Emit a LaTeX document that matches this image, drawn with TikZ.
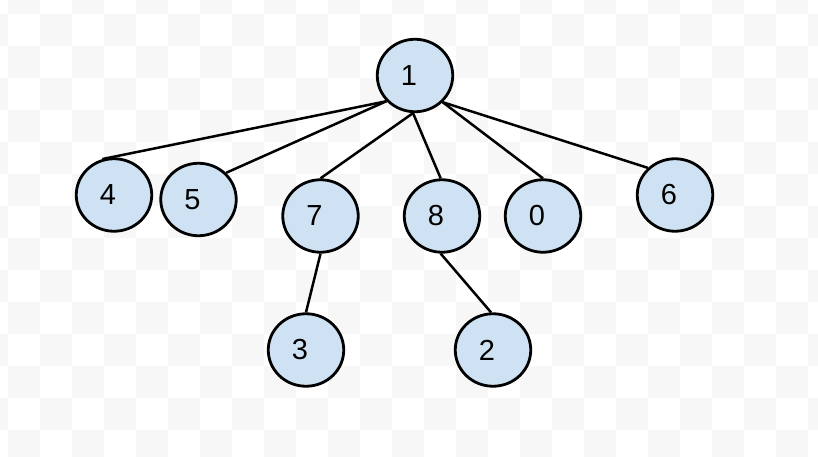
\documentclass[tikz,border=0pt]{standalone}
\usepackage{fontspec}
\setmainfont{Liberation Sans}
\usetikzlibrary{shapes.geometric}
\definecolor{nodefill}{HTML}{CFE2F3}
\definecolor{checker}{HTML}{F7F7F7}
\pgfdeclarelayer{checkers}
\pgfdeclarelayer{edges}
\pgfsetlayers{checkers,edges,main}
\tikzset{
  vtx/.style={ellipse, draw=black, line width=2.8pt, fill=nodefill,
    minimum width=75.5pt, minimum height=72.5pt, inner sep=0pt},
  lbl/.style={font=\fontsize{29}{29}\selectfont, xshift=-6pt, inner sep=0pt},
  edge/.style={line width=2.5pt, black}
}
\begin{document}
\begin{tikzpicture}[x=1pt,y=1pt]
\useasboundingbox (0,0) rectangle (818,456);
\begin{pgfonlayer}{checkers}
\clip (0,0) rectangle (818,456);
\fill[white] (0,0) rectangle (818,456);
\foreach \k in {-1,...,25} {
  \foreach \r in {0,...,14} {
    \pgfmathtruncatemacro\p{mod(\k+\r+20,2)}
    \ifnum\p=0
      \fill[checker] (8+32*\k,474-32*\r) rectangle (40+32*\k,442-32*\r);
    \fi
  }
}
\end{pgfonlayer}
% nodes (pixel centres, y flipped)
\node[vtx, label={[lbl]center:1}] (n1) at (415,380.5) {};
\node[vtx, label={[lbl]center:4}] (n4) at (114,261) {};
\node[vtx, label={[lbl]center:5}] (n5) at (198.5,256.5) {};
\node[vtx, label={[lbl]center:7}] (n7) at (320.5,240) {};
\node[vtx, label={[lbl]center:8}] (n8) at (442,240) {};
\node[vtx, label={[lbl]center:0}] (n0) at (543,240) {};
\node[vtx, label={[lbl]center:6}] (n6) at (675,261) {};
\node[vtx, label={[lbl]center:3}] (n3) at (306,106) {};
\node[vtx, label={[lbl]center:2}] (n2) at (493,106) {};
% edges
\begin{pgfonlayer}{edges}
\draw[edge] (n1.222) -- (n4.108);
\draw[edge] (n1.222) -- (n5.44);
\draw[edge] (n1.267) -- (n7.90);
\draw[edge] (n1.267) -- (n8.92);
\draw[edge] (n1.316) -- (n0.90);
\draw[edge] (n1.316) -- (n6.135);
\draw[edge] (n7.270) -- (n3.90);
\draw[edge] (n8.268) -- (n2.93);
\end{pgfonlayer}
\end{tikzpicture}
\end{document}
